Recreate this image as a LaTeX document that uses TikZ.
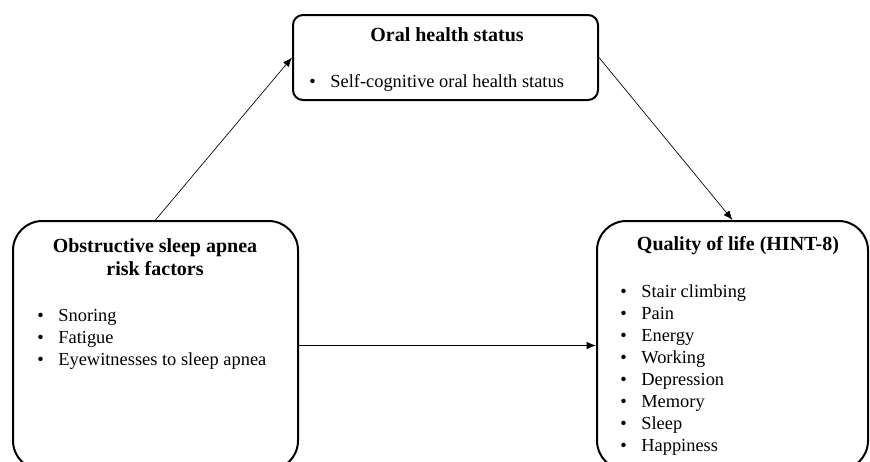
\documentclass[tikz,border=0pt]{standalone}
\usepackage{fontspec}
\setmainfont{Liberation Serif}
\usetikzlibrary{arrows.meta}
\tikzset{>={Latex[length=7pt,width=5.5pt]}}
\tikzset{
  box/.style={draw,line width=1.5pt,rounded corners=22pt},
  head/.style={inner sep=0,align=center,font=\fontsize{15}{17.25}\selectfont\bfseries},
  item/.style={inner sep=0,anchor=base west,font=\fontsize{13.8}{16.5}\selectfont},
  link/.style={->,line width=0.5pt}
}

\begin{document}
\begin{tikzpicture}[x=0.75pt,y=-0.75pt]
  \useasboundingbox (0,0) rectangle (870,461);
  % boxes
  \node[box,rounded corners=7.5pt,minimum width=228.75pt,minimum height=63.75pt] at (445.5,57.5) (oral) {};
  \node[box,minimum width=213.75pt,minimum height=186.75pt] at (155.5,345.5) (osa) {};
  \node[box,minimum width=203.25pt,minimum height=186.75pt] at (732.5,345.5) (qol) {};
  % titles
  \node[head] at (447,35) (oralhead) {Oral health status};
  \node[head] at (155,257) (osahead) {Obstructive sleep apnea\\risk factors};
  \node[head] at (738,246) (qolhead) {Quality of life (HINT-8)};
  % lists
  \node[item] at (309,87) (orallist) {\begin{tabular}[t]{@{}l@{\hspace{11pt}}l@{}}
    \textbullet & Self-cognitive oral health status
  \end{tabular}};
  \node[item] at (37,321) (osalist) {\begin{tabular}[t]{@{}l@{\hspace{11pt}}l@{}}
    \textbullet & Snoring\\
    \textbullet & Fatigue\\
    \textbullet & Eyewitnesses to sleep apnea
  \end{tabular}};
  \node[item] at (620,297) (qollist) {\begin{tabular}[t]{@{}l@{\hspace{11pt}}l@{}}
    \textbullet & Stair climbing\\
    \textbullet & Pain\\
    \textbullet & Energy\\
    \textbullet & Working\\
    \textbullet & Depression\\
    \textbullet & Memory\\
    \textbullet & Sleep\\
    \textbullet & Happiness
  \end{tabular}};
  % paths
  \draw[link] (osa.north) -- (oral.west);
  \draw[link] (oral.east) -- (qol.north);
  \draw[link] (osa.east) -- (qol.west);
\end{tikzpicture}
\end{document}
